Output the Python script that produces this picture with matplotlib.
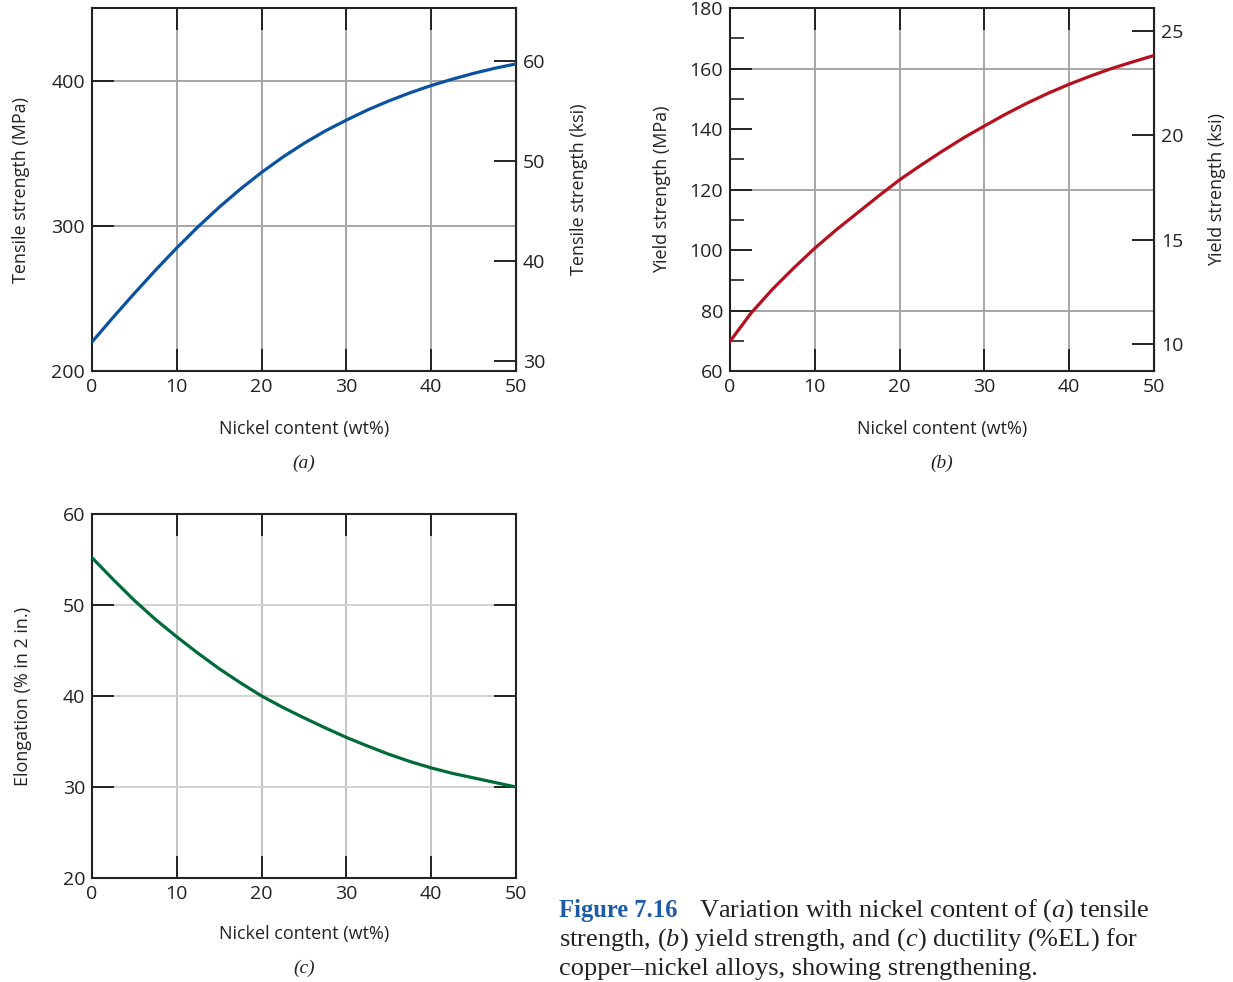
import numpy as np
import matplotlib
matplotlib.use("Agg")
import matplotlib.pyplot as plt

plt.rcParams['font.family'] = ['Open Sans', 'DejaVu Sans']
plt.rcParams['mathtext.fontset'] = 'custom'
plt.rcParams['mathtext.rm'] = 'Liberation Serif'
plt.rcParams['mathtext.it'] = 'Liberation Serif:italic'

# nickel content (wt%)
nickel = [0, 2.5, 5, 7.5, 10, 12.5, 15, 17.5, 20, 22.5, 25,
          27.5, 30, 32.5, 35, 37.5, 40, 42.5, 45, 47.5, 50]
# (a) tensile strength, MPa
tensile = [220, 237, 253.5, 269.5, 284.8, 299.3, 312.8, 325.3, 336.8, 347.3, 356.8,
           365.3, 372.8, 379.8, 386, 391.6, 396.6, 401, 405, 408.5, 411.5]
# (b) yield strength, MPa
yield_str = [69.8, 79.2, 87, 94, 100.6, 106.6, 112.2, 117.8, 123.2, 128, 132.6,
             137, 141, 144.9, 148.5, 151.8, 154.8, 157.5, 160, 162.2, 164.3]
# (c) elongation, % in 2 in.
elong = [55.2, 52.8, 50.5, 48.4, 46.5, 44.7, 43.0, 41.45, 40.0, 38.75, 37.6,
         36.5, 35.45, 34.5, 33.6, 32.8, 32.1, 31.5, 31.0, 30.5, 30.0]

MPA_PER_KSI = 6.895

W, H = 1233, 982
fig = plt.figure(figsize=(W / 100, H / 100), dpi=100)

def box(x0, y0, x1, y1):
    # pixel box -> figure fraction [left, bottom, width, height]
    return [x0 / W, 1 - y1 / H, (x1 - x0) / W, (y1 - y0) / H]

ink = '#222222'
tick_fs = 14
lab_fs = 13
tl = 15.6

def style(ax, ylim, yticks, vcol, right_ticks=False, xlabpad=17):
    ax.set_xlim(0, 50)
    ax.set_ylim(*ylim)
    ax.set_xticks([0, 10, 20, 30, 40, 50])
    ax.set_yticks(yticks)
    for x in [10, 20, 30, 40]:
        ax.axvline(x, color=vcol, lw=1.4, zorder=0)
    ax.tick_params(direction='in', length=tl, width=1.4, top=True,
                   right=right_ticks, labelsize=tick_fs, color=ink,
                   labelcolor=ink, pad=5)
    for s in ax.spines.values():
        s.set_linewidth(1.5)
        s.set_color(ink)
    ax.set_xlabel('Nickel content (wt%)', fontsize=lab_fs, labelpad=xlabpad, color=ink)

def ksi_axis(ax, ticks, label):
    sec = ax.secondary_yaxis('right', functions=(lambda m: m / MPA_PER_KSI,
                                                 lambda k: k * MPA_PER_KSI))
    sec.set_yticks(ticks)
    sec.tick_params(direction='in', length=tl, width=1.4, labelsize=tick_fs,
                    color=ink, labelcolor=ink, pad=5)
    sec.set_ylabel(label, fontsize=lab_fs, labelpad=17.5, color=ink)
    return sec

# (a) tensile strength
ax1 = fig.add_axes(box(92, 8, 516, 371))
ax1.plot(nickel, tensile, color='#0a52a0', lw=2.3, zorder=3)
style(ax1, (200, 450), [200, 300, 400], '#a6a6a6')
for y in [300, 400]:
    ax1.axhline(y, color='#a6a6a6', lw=1.4, zorder=0)
ax1.set_ylabel('Tensile strength (MPa)', fontsize=lab_fs, labelpad=15, color=ink)
ksi_axis(ax1, [30, 40, 50, 60], 'Tensile strength (ksi)')

# (b) yield strength
ax2 = fig.add_axes(box(730, 8, 1154, 371))
ax2.plot(nickel, yield_str, color='#b5101e', lw=2.3, zorder=3)
style(ax2, (60, 180), [60, 80, 100, 120, 140, 160, 180], '#a6a6a6')
for y in [80, 120, 160]:
    ax2.axhline(y, color='#a6a6a6', lw=1.4, zorder=0)
ax2.set_yticks([70, 90, 110, 130, 150, 170], minor=True)
ax2.tick_params(axis='y', which='minor', direction='in', length=10.3, width=1.2, color=ink)
ax2.set_ylabel('Yield strength (MPa)', fontsize=lab_fs, labelpad=13, color=ink)
ksi_axis(ax2, [10, 15, 20, 25], 'Yield strength (ksi)')

# (c) elongation
ax3 = fig.add_axes(box(92, 514, 516, 878))
ax3.plot(nickel, elong, color='#006b3a', lw=2.3, zorder=3)
style(ax3, (20, 60), [20, 30, 40, 50, 60], '#c4c4c4', right_ticks=True, xlabpad=16)
for y in [30, 40, 50]:
    ax3.axhline(y, color='#d2d2d2', lw=1.4, zorder=0)
ax3.set_ylabel('Elongation (% in 2 in.)', fontsize=lab_fs, labelpad=22, color=ink)

# panel letters
for txt, x, y in [('(a)', 304, 463), ('(b)', 942, 463), ('(c)', 304, 968)]:
    fig.text(x / W, 1 - y / H, txt, ha='center', va='center', fontsize=14,
             family='Liberation Serif', style='italic', color=ink)

# caption
cap_fs = 19
fig.text(559 / W, 1 - 917 / H, 'Figure 7.16', fontsize=17.7, family='Liberation Serif',
         weight='bold', color='#1d5ca8', va='baseline')
fig.text(699 / W, 1 - 917 / H, r'Variation with nickel content of ($\mathit{a}$) tensile',
         fontsize=cap_fs, family='Liberation Serif', color=ink, va='baseline')
fig.text(559 / W, 1 - 946 / H,
         r'strength, ($\mathit{b}$) yield strength, and ($\mathit{c}$) ductility (%EL) for',
         fontsize=cap_fs, family='Liberation Serif', color=ink, va='baseline')
fig.text(559 / W, 1 - 975 / H, 'copper\u2013nickel alloys, showing strengthening.',
         fontsize=cap_fs, family='Liberation Serif', color=ink, va='baseline')

fig.savefig('out.png', dpi=100)
